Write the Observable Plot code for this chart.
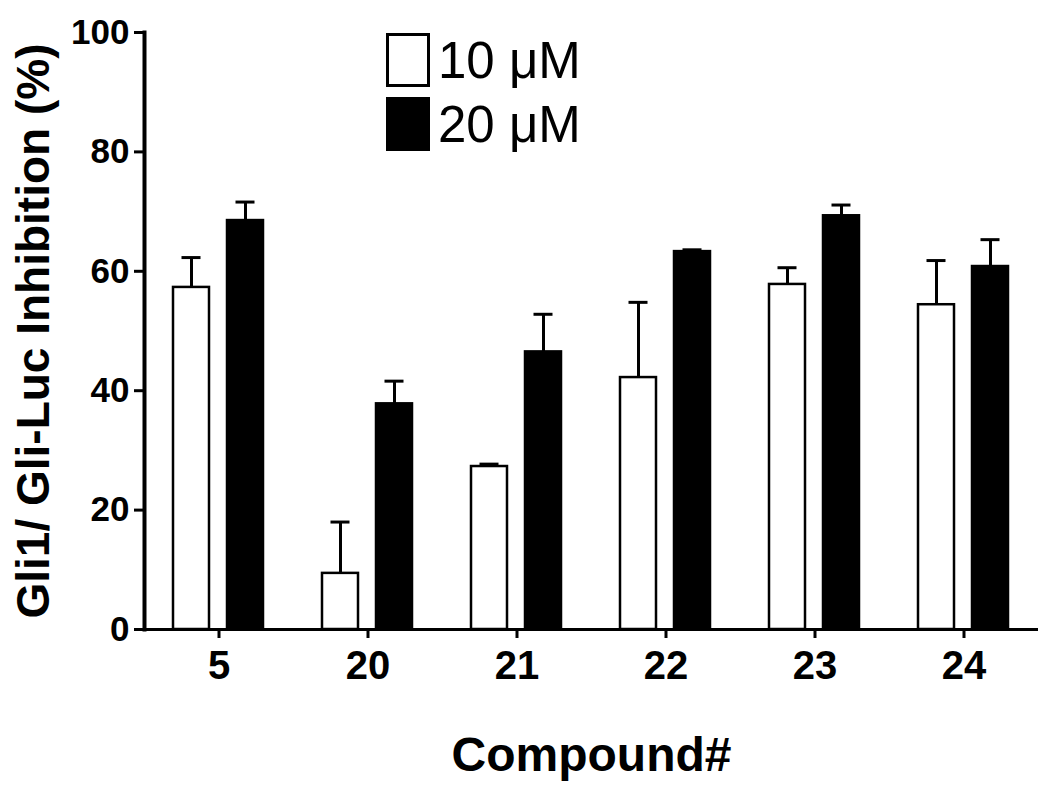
<!DOCTYPE html>
<html><head><meta charset="utf-8">
<script src="https://cdn.jsdelivr.net/npm/d3@7"></script>
<script src="https://cdn.jsdelivr.net/npm/@observablehq/plot@0.6"></script>
<style>
body{margin:0;background:#fff;}
#wrap{position:relative;width:1050px;height:786px;font-family:"Liberation Sans",Arial,sans-serif;}
#legend{position:absolute;left:386px;top:33px;}
.item{display:flex;align-items:center;height:54px;margin-bottom:10px;font-size:51px;color:#000;line-height:1}
.sw{width:44px;height:54px;box-sizing:border-box;border:3px solid #000;margin-right:8px}
</style></head>
<body><div id="wrap"><div id="legend"></div></div>
<script>
const compounds = ["5", "20", "21", "22", "23", "24"];
const concentrations = ["10 μM", "20 μM"];
const mean10 = [57.3, 9.4, 27.3, 42.2, 57.8, 54.4];
const err10 = [5.0, 8.6, 0.4, 12.6, 2.8, 7.4];
const mean20 = [68.5, 37.8, 46.5, 63.3, 69.3, 60.8];
const err20 = [3.1, 3.8, 6.3, 0.3, 1.8, 4.5];
const yTicks = [0, 20, 40, 60, 80, 100];
const fills = ["white", "black"];

const data = [];
compounds.forEach((c, i) => {
  data.push({compound: c, conc: concentrations[0], mean: mean10[i], err: err10[i]});
  data.push({compound: c, conc: concentrations[1], mean: mean20[i], err: err20[i]});
});

const font = '"Liberation Sans", Arial, sans-serif';
const chart = Plot.plot({
  width: 1050, height: 786,
  marginTop: 32, marginBottom: 157, marginLeft: 143, marginRight: 12,
  style: {fontFamily: font, background: "white", color: "black"},
  fx: {domain: compounds, padding: 0},
  x: {domain: concentrations, paddingInner: 0.33, paddingOuter: 0.52, axis: null},
  y: {domain: [0, 100]},
  color: {domain: concentrations, range: fills},
  marks: [
    Plot.ruleX(data, {fx: "compound", x: "conc", y1: "mean", y2: d => d.mean + d.err, stroke: "black", strokeWidth: 3}),
    Plot.tickY(data, {fx: "compound", x: "conc", y: d => d.mean + d.err, stroke: "black", strokeWidth: 3, insetLeft: 8.5, insetRight: 8.5}),
    Plot.barY(data, {fx: "compound", x: "conc", y: "mean", fill: "conc", stroke: "black", strokeWidth: 2.5}),
    Plot.ruleY([0], {stroke: "black", strokeWidth: 3}),
    Plot.frame({anchor: "left", facetAnchor: "left", stroke: "black", strokeWidth: 4}),
    Plot.axisY({ticks: yTicks, tickSize: 10, tickPadding: 5, fontSize: 35, fontWeight: "bold", strokeWidth: 3, label: null}),
    Plot.axisY({ticks: yTicks, tickSize: 0, tickFormat: () => "", label: "Gli1/ Gli-Luc Inhibition (%)", labelAnchor: "center", labelArrow: "none", labelOffset: 128, fontSize: 46, fontWeight: "bold"}),
    Plot.axisFx({anchor: "bottom", tickSize: 9, tickPadding: 12, fontSize: 40, fontWeight: "bold", strokeWidth: 3, label: null}),
    Plot.axisFx({anchor: "bottom", tickSize: 0, tickFormat: () => "", label: "Compound#", labelAnchor: "center", labelArrow: "none", labelOffset: 141, fontSize: 48, fontWeight: "bold"})
  ]
});
document.getElementById("wrap").prepend(chart);

const legend = document.getElementById("legend");
concentrations.forEach((c, i) => {
  const item = document.createElement("div");
  item.className = "item";
  const sw = document.createElement("div");
  sw.className = "sw";
  sw.style.background = fills[i];
  item.appendChild(sw);
  item.appendChild(document.createTextNode(c));
  legend.appendChild(item);
});
</script>
</body></html>
